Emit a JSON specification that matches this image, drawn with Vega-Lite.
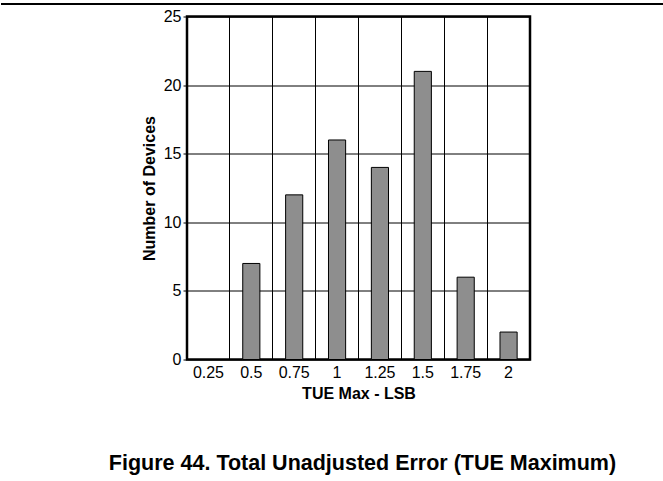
{
  "$schema": "https://vega.github.io/schema/vega-lite/v6.json",
  "padding": 0,
  "background": "white",
  "config": {"view": {"stroke": null}, "font": "Liberation Sans"},
  "title": {"text": "Figure 44. Total Unadjusted Error (TUE Maximum)", "orient": "bottom", "anchor": "middle", "fontSize": 21.5, "fontWeight": "bold", "font": "Liberation Sans", "color": "black", "dx": 30, "offset": 50},
  "spacing": 0.5,
  "vconcat": [
    {
      "width": 663, "height": 6,
      "data": {"values": [{}]},
      "mark": {"type": "rule", "color": "black", "strokeWidth": 2},
      "encoding": {"y": {"datum": 0.333, "type": "quantitative", "scale": {"domain": [0, 1]}, "axis": null}}
    },
    {
      "spacing": 0,
      "hconcat": [
        {
          "width": 138, "height": 10,
          "data": {"values": [{}]},
          "mark": {"type": "rule", "opacity": 0},
          "encoding": {}
        },
        {
          "width": 343, "height": 343,
          "view": {"stroke": "black", "strokeWidth": 2.5},
          "data": {"values": [
            {"tue": "0.25", "count": 0},
            {"tue": "0.5", "count": 7},
            {"tue": "0.75", "count": 12},
            {"tue": "1", "count": 16},
            {"tue": "1.25", "count": 14},
            {"tue": "1.5", "count": 21},
            {"tue": "1.75", "count": 6},
            {"tue": "2", "count": 2}
          ]},
          "mark": {"type": "bar", "fill": "#8e8e8e", "stroke": "black", "strokeWidth": 1, "width": {"band": 0.4}},
          "encoding": {
            "x": {"field": "tue", "type": "nominal", "sort": null,
              "scale": {"paddingInner": 0, "paddingOuter": 0},
              "axis": {"title": "TUE Max - LSB", "titleFontSize": 16, "titleFontWeight": "bold", "titleColor": "black", "titlePadding": 5,
                "labelFontSize": 16, "labelColor": "black", "labelAngle": 0, "labelPadding": 5, "ticks": false, "tickSize": 0, "domain": false,
                "grid": true, "gridColor": "black", "gridWidth": 1, "gridOpacity": 1, "bandPosition": 0}},
            "y": {"field": "count", "type": "quantitative",
              "scale": {"domain": [0, 25], "nice": false},
              "axis": {"title": "Number of Devices", "titleFontSize": 16, "titleFontWeight": "bold", "titleColor": "black", "titlePadding": 6,
                "values": [0, 5, 10, 15, 20, 25], "labelFontSize": 16, "labelColor": "black", "labelPadding": 2, "tickSize": 4, "tickColor": "black",
                "domain": false, "grid": true, "gridColor": "black", "gridWidth": 1, "gridOpacity": 1}}
          }
        }
      ]
    }
  ]
}
